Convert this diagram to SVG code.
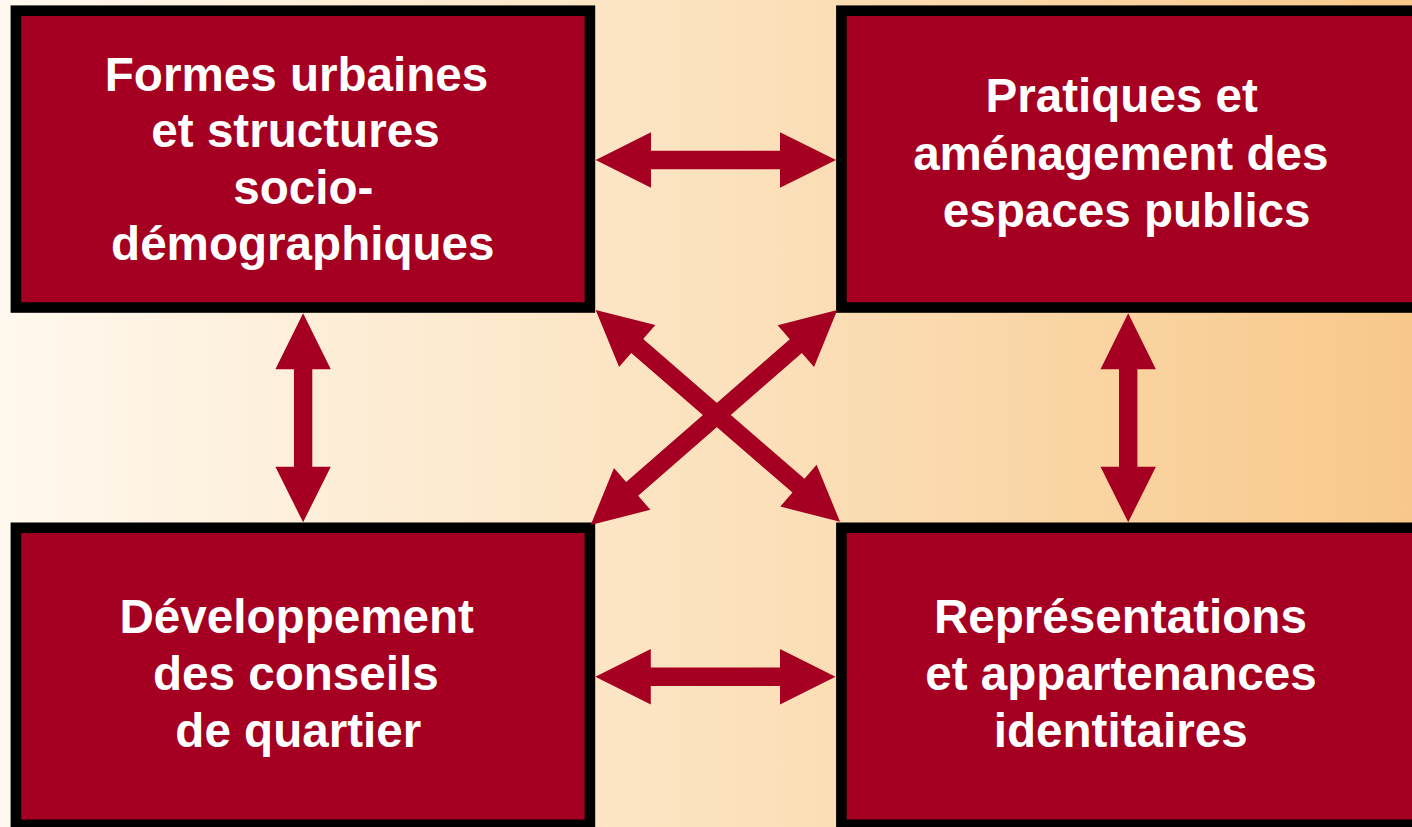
<svg xmlns="http://www.w3.org/2000/svg" width="1412" height="827" viewBox="0 0 1412 827">
  <defs>
    <linearGradient id="bg" x1="0" y1="0" x2="1412" y2="0" gradientUnits="userSpaceOnUse">
      <stop offset="0" stop-color="#FFF8EE"/>
      <stop offset="0.5" stop-color="#FBE2BE"/>
      <stop offset="1" stop-color="#F8C88A"/>
    </linearGradient>
    <style>
      .box { fill: #A50021; stroke: #000000; stroke-width: 10.6; }
      .lbl { fill: #FFFFFF; font-family: "Liberation Sans", Arial, sans-serif; font-weight: bold; font-size: 47.6px; text-anchor: middle; }
      .arr { fill: #A50021; stroke: none; }
    </style>
  </defs>
  <rect x="0" y="0" width="1412" height="827" fill="url(#bg)"/>

  <g id="node-formes">
    <rect class="box" x="15.9" y="10.7" width="574" height="296.8"/>
    <text class="lbl"><tspan x="296.5" y="90.7">Formes urbaines</tspan><tspan x="295.5" y="147">et structures</tspan><tspan x="303.3" y="203.5">socio-</tspan><tspan x="302.8" y="260">démographiques</tspan></text>
  </g>

  <g id="node-pratiques">
    <rect class="box" x="841.4" y="10.7" width="580" height="296.8"/>
    <text class="lbl"><tspan x="1121.7" y="112.3">Pratiques et</tspan><tspan x="1120.8" y="170">aménagement des</tspan><tspan x="1126.7" y="226.7">espaces publics</tspan></text>
  </g>

  <g id="node-developpement">
    <rect class="box" x="15.9" y="527.8" width="574" height="297"/>
    <text class="lbl"><tspan x="296.7" y="633.3">Développement</tspan><tspan x="295.8" y="690">des conseils</tspan><tspan x="298.3" y="746.7">de quartier</tspan></text>
  </g>

  <g id="node-representations">
    <rect class="box" x="841.4" y="527.8" width="580" height="297"/>
    <text class="lbl"><tspan x="1120.4" y="633.3">Représentations</tspan><tspan x="1121" y="690">et appartenances</tspan><tspan x="1120.7" y="746.7">identitaires</tspan></text>
  </g>

  <g id="connectors">
    <polygon class="arr" points="595.7,160 651,132.3 651,150.8 780,150.8 780,132.3 836,160 780,187.7 780,169.2 651,169.2 651,187.7"/>
    <polygon class="arr" points="595.3,676.7 650.8,649 650.8,667.4 780,667.4 780,649 835.5,676.7 780,704.4 780,686 650.8,686 650.8,704.4"/>
    <polygon class="arr" points="303.1,313.3 330.8,369.3 312.3,369.3 312.3,466.7 330.8,466.7 303.1,522.3 275.4,466.7 293.9,466.7 293.9,369.3 275.4,369.3"/>
    <polygon class="arr" points="1128.2,313.3 1155.9,369.3 1137.4,369.3 1137.4,466.7 1155.9,466.7 1128.2,522.3 1100.5,466.7 1119,466.7 1119,369.3 1100.5,369.3"/>
    <polygon class="arr" transform="translate(717.85,415.85) rotate(40.9)" points="-161.65,0 -106.65,-27.7 -106.65,-9.15 106.65,-9.15 106.65,-27.7 161.65,0 106.65,27.7 106.65,9.15 -106.65,9.15 -106.65,27.7"/>
    <polygon class="arr" transform="translate(714,417.5) rotate(138.9)" points="-163.6,0 -108.6,-27.7 -108.6,-9.15 108.6,-9.15 108.6,-27.7 163.6,0 108.6,27.7 108.6,9.15 -108.6,9.15 -108.6,27.7"/>
  </g>
</svg>
